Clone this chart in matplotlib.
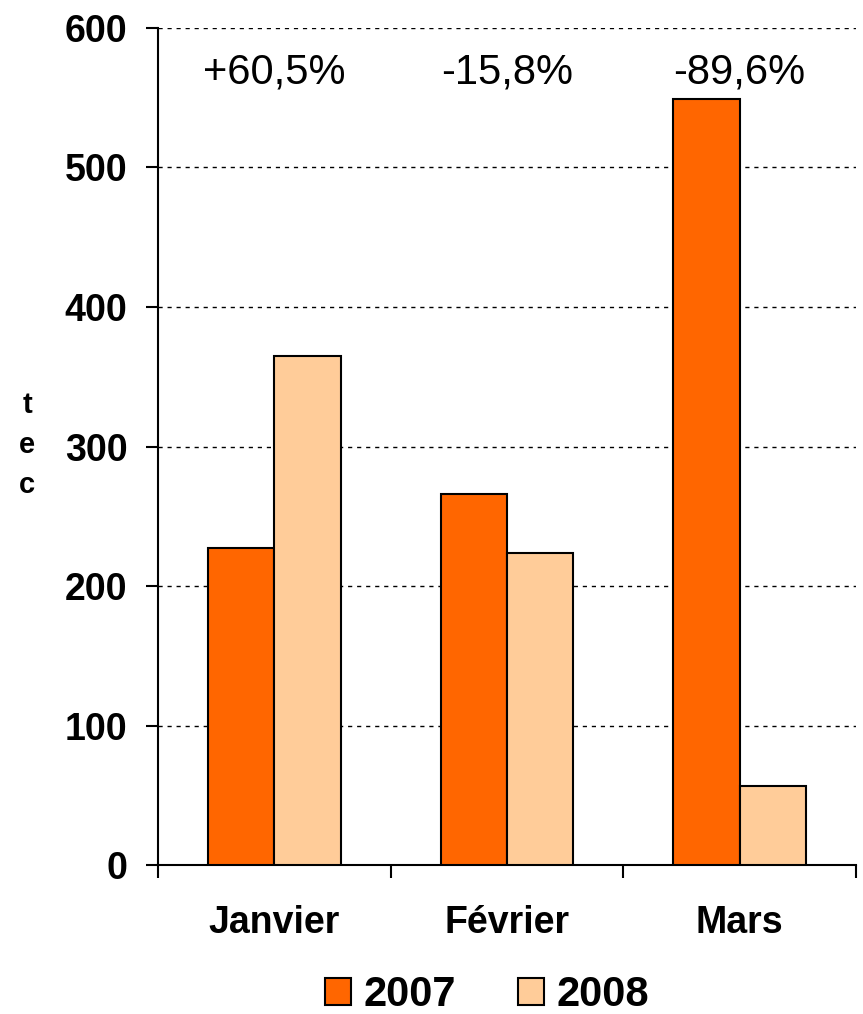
import numpy as np
import matplotlib
matplotlib.use('Agg')
from matplotlib import pyplot as plt
from matplotlib.patches import Patch

matplotlib.rcParams['font.family'] = ['Liberation Sans', 'DejaVu Sans']

months = ['Janvier', 'Février', 'Mars']
years = ['2007', '2008']
val_2007 = [227, 266, 549]
val_2008 = [365, 224, 57]
changes = ['+60,5%', '-15,8%', '-89,6%']

c2007 = '#FF6600'
c2008 = '#FFCC99'

fig = plt.figure(figsize=(8.63, 10.14), dpi=100)
ax = fig.add_axes([0.1831, 0.1469, 0.9919 - 0.1831, 0.9724 - 0.1469])

x = np.arange(len(months))
w = 0.285
ax.bar(x - w/2, val_2007, w, color=c2007, edgecolor='black', linewidth=1.5, zorder=3)
ax.bar(x + w/2, val_2008, w, color=c2008, edgecolor='black', linewidth=1.5, zorder=3)

ax.set_xlim(-0.5, 2.5)
ax.set_ylim(0, 600)

# grid
ax.set_yticks(np.arange(0, 601, 100))
ax.set_yticklabels([str(v) for v in range(0, 601, 100)], fontsize=27, fontweight='bold')
ax.yaxis.grid(True, linestyle=(0, (3, 3.5)), color='black', linewidth=1.0, zorder=0)

ax.set_xticks([-0.5, 0.5, 1.5, 2.5])
ax.set_xticklabels([])
ax.set_xticks(x, minor=True)
ax.set_xticklabels(months, minor=True, fontsize=27, fontweight='bold')
ax.tick_params(axis='x', which='minor', length=0, pad=29)
ax.tick_params(axis='x', which='major', length=9, width=1.5, direction='out')
ax.tick_params(axis='y', length=9, width=1.5, direction='out', pad=13)

for s in ['top', 'right']:
    ax.spines[s].set_visible(False)
for s in ['left', 'bottom']:
    ax.spines[s].set_linewidth(1.5)

for i, t in enumerate(changes):
    ax.text(x[i], 568, t, ha='center', va='center', fontsize=30)

fig.text(27/863, 1 - 445/1014, 't\ne\nc', ha='center', va='center',
         fontsize=21, fontweight='bold', linespacing=1.55)

handles = [Patch(facecolor=c2007, edgecolor='black', linewidth=1.5),
           Patch(facecolor=c2008, edgecolor='black', linewidth=1.5)]
fig.legend(handles, years, loc='center', bbox_to_anchor=(487/863, 1 - 995/1014),
           ncol=2, frameon=False, prop={'size': 30, 'weight': 'bold'},
           handlelength=0.62, handleheight=0.62, handletextpad=0.3,
           columnspacing=1.5, borderpad=0)

plt.savefig('out.png', dpi=100)
